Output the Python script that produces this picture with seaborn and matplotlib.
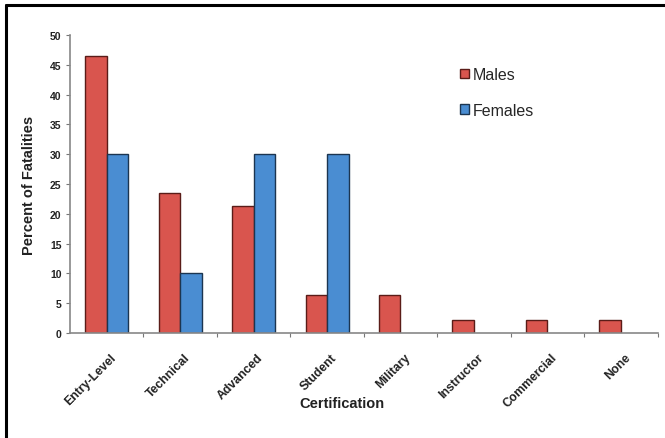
import matplotlib
matplotlib.use("Agg")
import matplotlib.pyplot as plt
from matplotlib.lines import Line2D
from matplotlib.patches import Patch
import numpy as np
import pandas as pd
import seaborn as sns

# Certification categories and percent of fatalities by sex
certifications = ["Entry-Level", "Technical", "Advanced", "Student",
                  "Military", "Instructor", "Commercial", "None"]
males = [46.4, 23.4, 21.3, 6.4, 6.4, 2.1, 2.1, 2.1]
females = [30.0, 10.0, 30.0, 30.0, np.nan, np.nan, np.nan, np.nan]
y_ticks = [0, 5, 10, 15, 20, 25, 30, 35, 40, 45, 50]

male_fill, male_edge = "#d9554e", "#5a1c18"
female_fill, female_edge = "#4a8dd2", "#1c3550"

df = pd.DataFrame({
    "Certification": certifications * 2,
    "Percent": males + females,
    "Sex": ["Males"] * len(certifications) + ["Females"] * len(certifications),
})

sns.set_style("white")
plt.rcParams["font.family"] = ["Liberation Sans", "DejaVu Sans"]

fig = plt.figure(figsize=(6.65, 4.39), dpi=100)
ax = fig.add_axes([0.105, 0.2392, 0.884, 0.679])

sns.barplot(data=df, x="Certification", y="Percent", hue="Sex",
            order=certifications, hue_order=["Males", "Females"],
            palette=[male_fill, female_fill], saturation=1, width=0.585,
            edgecolor="black", linewidth=1.0, errorbar=None,
            legend=False, ax=ax)

# darker outlines matching each series
for container, edge in zip(ax.containers, [male_edge, female_edge]):
    for bar in container:
        bar.set_edgecolor(edge)

ax.set_xlim(-0.5, len(certifications) - 0.5)
ax.set_ylim(0, 50)
ax.set_yticks(y_ticks)
ax.set_yticklabels([str(t) for t in y_ticks], fontsize=7.5, fontweight="bold",
                   color="#222222")

ax.set_xticks(np.arange(len(certifications)) + 0.05)
ax.set_xticklabels(certifications, rotation=45, ha="right",
                   rotation_mode="anchor", fontsize=8.8, fontweight="bold",
                   color="#222222")
ax.set_xticks(np.arange(0.5, len(certifications) + 0.5, 1.0), minor=True)
ax.tick_params(axis="x", which="major", length=0, pad=13)
ax.tick_params(axis="x", which="minor", length=3, width=0.8,
               color="#777777", direction="out", bottom=True)
ax.tick_params(axis="y", which="major", length=3, width=0.8,
               color="#777777", direction="out", left=True, pad=3)

for side in ["top", "right"]:
    ax.spines[side].set_visible(False)
for side in ["left", "bottom"]:
    ax.spines[side].set_color("#888888")
    ax.spines[side].set_linewidth(1.2)

ax.set_xlabel("Certification", fontsize=10.5, fontweight="bold",
              color="#222222")
ax.xaxis.set_label_coords(0.463, -0.21)
ax.set_ylabel("Percent of Fatalities", fontsize=10.5, fontweight="bold",
              color="#222222", labelpad=10)

handles = [Patch(facecolor=male_fill, edgecolor=male_edge, linewidth=1.0),
           Patch(facecolor=female_fill, edgecolor=female_edge, linewidth=1.0)]
ax.legend(handles, ["Males", "Females"], loc="upper left",
          bbox_to_anchor=(0.64, 0.94), frameon=False, fontsize=11.5,
          handlelength=0.55, handleheight=0.55, handletextpad=0.2,
          labelspacing=1.3)

# frame lines along the top and left edges of the figure
fig.add_artist(Line2D([6 / 665, 6 / 665], [0, 1 - 6 / 439],
                      transform=fig.transFigure, color="black", linewidth=2.2))
fig.add_artist(Line2D([6 / 665, 1], [1 - 6 / 439, 1 - 6 / 439],
                      transform=fig.transFigure, color="black", linewidth=2.2))

fig.savefig("out.png", dpi=100)
